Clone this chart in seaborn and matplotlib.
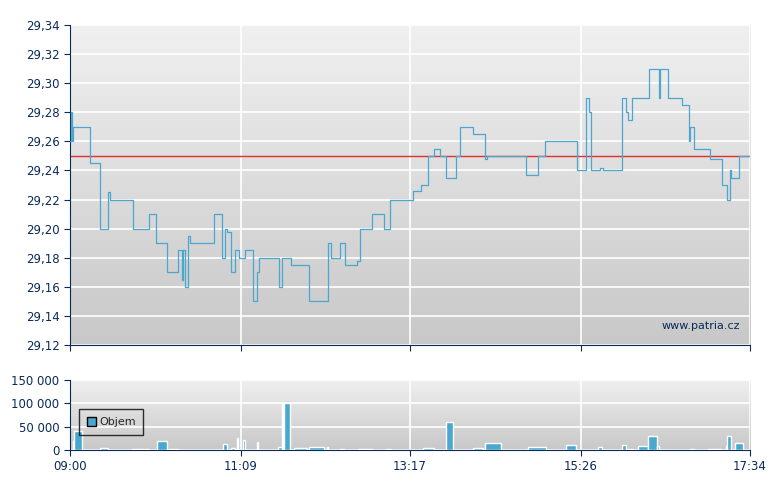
import numpy as np
import pandas as pd
import matplotlib
matplotlib.use("Agg")
import matplotlib.pyplot as plt
import seaborn as sns

# minutes since 09:00 and trade price
price_min = [0, 1, 1.5, 2, 15, 23, 29, 30, 48, 60, 65, 73, 82, 85, 85.5, 87, 89, 91, 109, 115, 117, 119,
             122, 125, 128, 132, 138, 141, 143, 158, 160, 167, 181, 195, 197, 204, 208, 217, 219, 228, 237,
             242, 259, 265, 271, 275, 280, 284, 292, 295, 305, 314, 315, 345, 354, 359, 383, 390, 392, 394,
             401, 403, 417, 420, 422, 425, 438, 445, 446, 452, 463, 468, 469, 472, 484, 493, 497, 499, 500,
             506, 514]
price_val = [29.26, 29.28, 29.26, 29.27, 29.245, 29.20, 29.225, 29.22, 29.20, 29.21, 29.19, 29.17, 29.185,
             29.165, 29.185, 29.16, 29.195, 29.19, 29.21, 29.18, 29.20, 29.198, 29.17, 29.185, 29.18, 29.185,
             29.15, 29.17, 29.18, 29.16, 29.18, 29.175, 29.15, 29.19, 29.18, 29.19, 29.175, 29.178, 29.20,
             29.21, 29.20, 29.22, 29.226, 29.23, 29.25, 29.255, 29.25, 29.235, 29.25, 29.27, 29.265, 29.248,
             29.25, 29.237, 29.25, 29.26, 29.24, 29.29, 29.28, 29.24, 29.242, 29.24, 29.29, 29.28, 29.275,
             29.29, 29.31, 29.29, 29.31, 29.29, 29.285, 29.26, 29.27, 29.255, 29.248, 29.23, 29.22, 29.24,
             29.235, 29.25, 29.25]
prev_close = 29.25

vol_min = [2, 3, 23, 47, 66, 75, 116, 122, 126, 131, 141, 157, 160, 162, 169, 181, 194, 204, 218, 239, 267,
           284, 305, 314, 346, 375, 399, 417, 421, 429, 437, 444, 469, 482, 496, 497, 503]
vol_width = [1.5, 6, 6, 13, 7.5, 7, 3, 3, 1, 1, 1.5, 3, 1, 4.5, 10.5, 11, 1, 3, 10.5, 4, 8,
             5.5, 7, 12, 13.5, 7.5, 3, 3, 4.5, 8, 7, 1.5, 3, 10, 1, 3, 5.5]
vol_val = [19500, 41000, 4300, 2200, 19500, 2000, 13000, 4300, 26000, 21600, 17000, 6500, 101700, 101700,
           4300, 6500, 6500, 2000, 2000, 2000, 4300, 59000, 4300, 16000, 6500, 11500, 6500, 11000, 2000,
           8600, 29000, 8600, 2000, 2000, 8000, 29000, 16000]

tick_min = [0, 129, 257, 386, 514]
tick_lab = ["09:00", "11:09", "13:17", "15:26", "17:34"]

navy = "#0a2a5a"
blue = "#4aa8d0"
sns.set_style("white")
fig = plt.figure(figsize=(7.8, 4.9), dpi=100)
ax = fig.add_axes([0.0897, 0.2959, 0.8718, 0.653])
axv = fig.add_axes([0.0897, 0.0816, 0.8718, 0.1429])

grad = np.linspace(0, 1, 256).reshape(-1, 1)
cmap = matplotlib.colors.LinearSegmentedColormap.from_list("g", ["#f0f0f0", "#c8c8c8"])
for a in (ax, axv):
    a.imshow(grad, aspect="auto", cmap=cmap, extent=[0, 514, 0, 1],
             transform=a.get_xaxis_transform(), zorder=0)
    a.set_xlim(0, 514)
    a.set_xticks(tick_min)
    a.grid(True, color="white", lw=1.2, zorder=1)
    a.set_axisbelow(True)
    for s in ("top", "right"):
        a.spines[s].set_visible(False)
    for s in ("left", "bottom"):
        a.spines[s].set_color(navy)
    a.tick_params(colors=navy, labelsize=8.5, length=4, direction="out", bottom=True, left=True)

df = pd.DataFrame({"m": price_min, "p": price_val})
sns.lineplot(data=df, x="m", y="p", ax=ax, drawstyle="steps-post", color=blue, lw=0.9, zorder=3)
ax.axhline(prev_close, color="#e03030", lw=1, zorder=2)
ax.set_ylim(29.12, 29.34)
yt = np.arange(29.12, 29.345, 0.02)
ax.set_yticks(yt)
ax.set_yticklabels([f"{v:.2f}".replace(".", ",") for v in yt])
ax.set_xticklabels([])
ax.set_xlabel("")
ax.set_ylabel("")
ax.text(0.985, 0.06, "www.patria.cz", transform=ax.transAxes, ha="right", va="center", fontsize=8, color=navy)

axv.bar(vol_min, vol_val, width=vol_width, align="edge", color=blue, zorder=3, label="Objem")
axv.set_ylim(0, 150000)
axv.set_yticks([0, 50000, 100000, 150000])
axv.set_yticklabels(["0", "50 000", "100 000", "150 000"])
axv.set_xticklabels(tick_lab)
leg = axv.legend(loc="upper left", bbox_to_anchor=(0.005, 0.66), fontsize=8, frameon=True, fancybox=False,
                 handlelength=0.8, handleheight=0.8, borderpad=0.7, handletextpad=0.3)
leg.get_frame().set_edgecolor("black")
leg.get_frame().set_facecolor("none")
leg.legend_handles[0].set_edgecolor("black")

fig.savefig("out.png", dpi=100)
